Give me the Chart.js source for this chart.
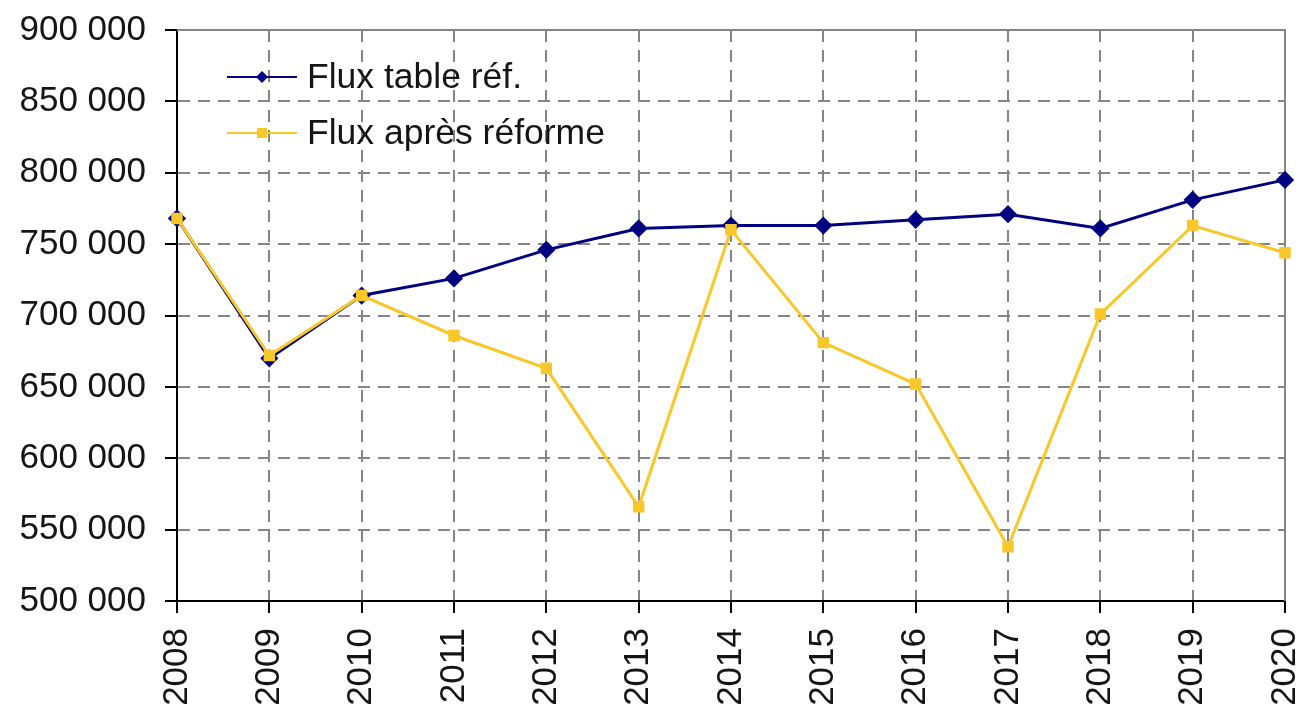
<!DOCTYPE html>
<html>
<head>
<meta charset="utf-8">
<script src="https://cdn.jsdelivr.net/npm/chart.js@4"></script>
<style>
  html, body { margin: 0; padding: 0; background: #fff; }
  #wrap { width: 1296px; height: 710px; }
</style>
</head>
<body>
<div id="wrap"><canvas id="chart" width="1296" height="710"></canvas></div>
<script>
const years = ["2008", "2009", "2010", "2011", "2012", "2013", "2014",
               "2015", "2016", "2017", "2018", "2019", "2020"];
const fluxTableRef = [768000, 670000, 714000, 726000, 746000, 761000, 763000,
                      763000, 767000, 771000, 761000, 781000, 795000];
const fluxApresReforme = [768000, 672000, 714000, 686000, 663000, 566000, 760000,
                          681000, 652000, 538000, 701000, 763000, 744000];
const yTicks = [500000, 550000, 600000, 650000, 700000, 750000, 800000, 850000, 900000];

const FONT = "'Liberation Sans', Arial, sans-serif";
const COLORS = {
    blue: "#000080",
    yellow: "#f8c72a",
    grid: "#858585",
    axis: "#000000",
    text: "#151515",
};

function fmt(v) {
    return String(v).replace(/\B(?=(\d{3})+(?!\d))/g, " ");
}

// solid grey frame on top and right, like the original
const framePlugin = {
    id: "frame",
    beforeDatasetsDraw(chart) {
        const { ctx, chartArea: a } = chart;
        ctx.save();
        ctx.strokeStyle = COLORS.grid;
        ctx.lineWidth = 2;
        ctx.beginPath();
        ctx.moveTo(a.left, a.top);
        ctx.lineTo(a.right, a.top);
        ctx.lineTo(a.right, a.bottom);
        ctx.stroke();
        ctx.restore();
    },
};

// legend drawn inside the plot area
const innerLegend = {
    id: "innerLegend",
    afterDraw(chart) {
        const { ctx, chartArea: a } = chart;
        const rows = [77, 133];
        ctx.save();
        ctx.font = "35.5px " + FONT;
        ctx.textBaseline = "middle";
        chart.data.datasets.forEach((ds, i) => {
            const y = rows[i];
            const x0 = a.left + 50, x1 = a.left + 120, xm = (x0 + x1) / 2;
            ctx.strokeStyle = ds.borderColor;
            ctx.lineWidth = 2;
            ctx.beginPath();
            ctx.moveTo(x0, y);
            ctx.lineTo(x1, y);
            ctx.stroke();
            ctx.fillStyle = ds.pointBackgroundColor;
            ctx.beginPath();
            if (ds.pointStyle === "rectRot") {
                ctx.moveTo(xm, y - 6);
                ctx.lineTo(xm + 6, y);
                ctx.lineTo(xm, y + 6);
                ctx.lineTo(xm - 6, y);
            } else {
                ctx.rect(xm - 5, y - 5, 10, 10);
            }
            ctx.closePath();
            ctx.fill();
            ctx.fillStyle = COLORS.text;
            ctx.fillText(ds.label, x1 + 10, y + 1);
        });
        ctx.restore();
    },
};

const ctx = document.getElementById("chart").getContext("2d");
new Chart(ctx, {
    type: "line",
    data: {
        labels: years,
        datasets: [
            {
                label: "Flux table réf.",
                data: fluxTableRef,
                borderColor: COLORS.blue,
                backgroundColor: COLORS.blue,
                pointBackgroundColor: COLORS.blue,
                pointBorderColor: COLORS.blue,
                pointStyle: "rectRot",
                pointRadius: 7,
                borderWidth: 3,
                tension: 0,
                order: 1,
            },
            {
                label: "Flux après réforme",
                data: fluxApresReforme,
                borderColor: COLORS.yellow,
                backgroundColor: COLORS.yellow,
                pointBackgroundColor: COLORS.yellow,
                pointBorderColor: COLORS.yellow,
                pointStyle: "rect",
                pointRadius: 6,
                borderWidth: 3,
                tension: 0,
                order: 0,
            },
        ],
    },
    options: {
        responsive: false,
        animation: false,
        layout: { padding: { top: 30, right: 11, left: 0, bottom: 0 } },
        plugins: {
            legend: { display: false },
            tooltip: { enabled: false },
        },
        scales: {
            x: {
                offset: false,
                afterFit: (s) => {
                    s.height = 109;
                    s.paddingLeft = 0;
                    s.paddingRight = 0;
                },
                border: { display: true, color: COLORS.axis, width: 2, dash: [12, 8] },
                grid: {
                    color: COLORS.grid,
                    lineWidth: 2,
                    tickLength: 12,
                    tickColor: COLORS.axis,
                    tickWidth: 2,
                    tickBorderDash: [],
                },
                ticks: {
                    minRotation: 90,
                    maxRotation: 90,
                    padding: 15,
                    color: COLORS.text,
                    font: { family: FONT, size: 35 },
                },
            },
            y: {
                min: 500000,
                max: 900000,
                afterFit: (s) => {
                    s.width = 177;
                    s.paddingTop = 0;
                    s.paddingBottom = 0;
                },
                afterBuildTicks: (s) => { s.ticks = yTicks.map((v) => ({ value: v })); },
                border: { display: true, color: COLORS.axis, width: 2, dash: [12, 8] },
                grid: {
                    color: COLORS.grid,
                    lineWidth: 2,
                    tickLength: 12,
                    tickColor: COLORS.axis,
                    tickWidth: 2,
                    tickBorderDash: [],
                },
                ticks: {
                    padding: 19,
                    color: COLORS.text,
                    font: { family: FONT, size: 35 },
                    callback: (v) => fmt(v),
                },
            },
        },
    },
    plugins: [framePlugin, innerLegend],
});
</script>
</body>
</html>
